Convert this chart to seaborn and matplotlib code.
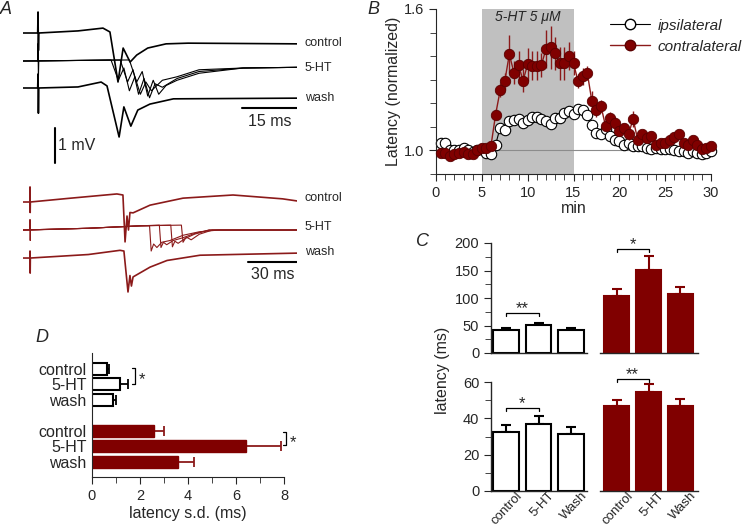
import numpy as np
import matplotlib
matplotlib.use("Agg")
import matplotlib.pyplot as plt
import matplotlib.transforms as mtransforms
from matplotlib.lines import Line2D
import seaborn as sns

sns.set_style("ticks")
plt.rcParams["font.family"] = ["Liberation Sans", "DejaVu Sans"]
plt.rcParams["font.size"] = 10

RED = "#800000"
TRACE_RED = "#8b1a1a"

# ---------------- panel A: traces (ms, mV relative to own baseline) ----------------
a_ctrl_t = [0, 4.0, 4.1, 4.2, 4.3, 15, 21.8, 23.7, 25.9, 27.3, 29.2, 31, 34, 39, 45, 75]
a_ctrl_v = [0, 0, 0.6, -0.5, 0, 0.06, 0.14, 0.03, -1.4, -0.43, -0.83, -0.63, -0.43, -0.31, -0.29, -0.31]

a_ht1_t = [0, 4.0, 4.1, 4.2, 4.3, 24, 26, 27.5, 29, 30.5, 32, 33.5, 35, 38, 42, 48, 60, 75]
a_ht1_v = [0, 0, 0.5, -0.5, 0, 0.03, -0.55, -0.2, -0.85, -0.45, -0.95, -0.6, -0.85, -0.55, -0.45, -0.25, -0.2, -0.18]
a_ht2_t = [0, 26.5, 28.5, 30, 31.5, 33, 34.5, 36, 38, 42, 48, 60, 75]
a_ht2_v = [0, 0.03, -0.6, -0.25, -0.95, -0.5, -1.05, -0.65, -0.75, -0.5, -0.3, -0.2, -0.18]
a_ht3_t = [0, 29, 31, 32.5, 34, 35.5, 37, 39, 42, 48, 60, 75]
a_ht3_v = [0, 0.03, -0.6, -0.3, -1.0, -0.55, -0.95, -0.7, -0.55, -0.35, -0.2, -0.18]

a_wash_t = [0, 4.0, 4.1, 4.2, 4.3, 15, 21.3, 22.9, 26.2, 27.5, 29.4, 31.3, 34.6, 41, 75]
a_wash_v = [0, 0, 0.4, -0.72, 0, 0.03, 0.17, 0.06, -1.4, -0.54, -1.09, -0.63, -0.46, -0.31, -0.29]

r_ctrl_t = [0, 4.2, 4.3, 4.4, 4.5, 27, 57.5, 61.2, 62.5, 63.7, 64.6, 65.5, 67.4, 77.8, 98, 128.6, 159, 167.8]
r_ctrl_v = [0, 0, 0.43, -0.3, 0, 0.1, 0.23, 0.2, -1.14, -0.4, -0.8, -0.3, -0.31, -0.09, 0.11, 0.2, 0.09, 0.03]

r_ht1_t = [0, 4.2, 4.3, 4.4, 4.5, 40, 72, 77.5, 78.5, 80, 82, 85, 90, 98, 108, 120, 167.8]
r_ht1_v = [0, 0, 0.3, -0.3, 0, 0.05, 0.12, 0.12, -0.6, -0.4, -0.5, -0.35, -0.3, -0.15, -0.05, 0.0, 0.0]
r_ht2_t = [0, 40, 72, 83.5, 84.5, 86, 88, 92, 98, 105, 114, 167.8]
r_ht2_v = [0, 0.05, 0.12, 0.14, -0.5, -0.35, -0.42, -0.3, -0.22, -0.1, 0, 0]
r_ht3_t = [0, 40, 72, 90.5, 91.5, 93, 95, 99, 105, 114, 167.8]
r_ht3_v = [0, 0.05, 0.12, 0.14, -0.48, -0.32, -0.38, -0.25, -0.12, 0, 0]
r_ht4_t = [0, 40, 72, 97, 98, 100, 103, 108, 116, 167.8]
r_ht4_v = [0, 0.05, 0.12, 0.14, -0.35, -0.2, -0.28, -0.12, 0, 0]

r_wash_t = [0, 4.2, 4.3, 4.4, 4.5, 40, 59.4, 61.8, 64.3, 65.5, 66.4, 67.4, 77.8, 88.2, 108.4, 167.8]
r_wash_v = [0, 0, 0.2, -0.43, 0, 0.1, 0.22, 0.2, -0.97, -0.5, -0.8, -0.54, -0.26, -0.07, 0.08, 0.14]

# ---------------- panel B: normalized latency ----------------
minutes = np.arange(0.5, 30.01, 0.5)
ipsi = [1.032, 1.030, 1.000, 1.000, 1.000, 1.011, 1.000, 0.995, 1.000, 1.005,
        0.990, 0.983, 1.025, 1.096, 1.085, 1.124, 1.131, 1.134, 1.117, 1.131,
        1.142, 1.142, 1.135, 1.124, 1.114, 1.138, 1.138, 1.159, 1.166, 1.156,
        1.176, 1.173, 1.152, 1.106, 1.072, 1.068, 1.089, 1.061, 1.046, 1.040,
        1.025, 1.032, 1.018, 1.018, 1.018, 1.011, 1.004, 1.011, 1.007, 1.007,
        1.004, 1.000, 0.997, 0.997, 0.990, 0.997, 0.990, 0.983, 0.987, 0.997]
ipsi_err = [0.01, 0.01, 0.01, 0.01, 0.01, 0.01, 0.01, 0.01, 0.01, 0.01,
            0.01, 0.01, 0.015, 0.015, 0.015, 0.015, 0.015, 0.015, 0.015, 0.015,
            0.015, 0.015, 0.015, 0.015, 0.015, 0.02, 0.02, 0.02, 0.02, 0.02,
            0.02, 0.02, 0.02, 0.015, 0.015, 0.015, 0.015, 0.01, 0.01, 0.01,
            0.01, 0.01, 0.01, 0.01, 0.01, 0.01, 0.01, 0.01, 0.01, 0.01,
            0.01, 0.01, 0.01, 0.01, 0.01, 0.01, 0.01, 0.01, 0.01, 0.01]
contra = [0.990, 0.990, 0.975, 0.985, 0.990, 0.995, 0.985, 0.985, 1.000, 1.010,
          1.010, 1.020, 1.152, 1.255, 1.293, 1.408, 1.330, 1.363, 1.296, 1.366,
          1.360, 1.360, 1.363, 1.430, 1.437, 1.413, 1.370, 1.370, 1.400, 1.370,
          1.293, 1.314, 1.330, 1.210, 1.170, 1.187, 1.103, 1.138, 1.117, 1.083,
          1.097, 1.068, 1.134, 1.046, 1.068, 1.053, 1.063, 1.025, 1.030, 1.032,
          1.044, 1.058, 1.068, 1.032, 1.025, 1.046, 1.021, 1.004, 1.011, 1.018]
contra_err = [0.01, 0.01, 0.01, 0.01, 0.01, 0.01, 0.01, 0.01, 0.01, 0.01,
              0.015, 0.015, 0.025, 0.03, 0.035, 0.08, 0.05, 0.06, 0.05, 0.07,
              0.06, 0.06, 0.05, 0.08, 0.09, 0.07, 0.07, 0.07, 0.06, 0.05,
              0.03, 0.035, 0.03, 0.04, 0.03, 0.025, 0.02, 0.025, 0.025, 0.02,
              0.02, 0.025, 0.035, 0.02, 0.02, 0.02, 0.02, 0.015, 0.015, 0.015,
              0.015, 0.015, 0.015, 0.015, 0.015, 0.015, 0.015, 0.015, 0.015, 0.015]

# ---------------- panel C: latency bars ----------------
conditions = ["control", "5-HT", "Wash"]
c_top_ipsi = [41.8, 50.3, 42.0]
c_top_ipsi_err = [3.7, 4.7, 3.5]
c_top_contra = [103.0, 150.3, 107.8]
c_top_contra_err = [12.8, 25.7, 12.7]
c_bot_ipsi = [32.3, 36.9, 31.5]
c_bot_ipsi_err = [3.9, 4.2, 3.5]
c_bot_contra = [46.8, 54.7, 46.8]
c_bot_contra_err = [3.3, 4.0, 3.8]

# ---------------- panel D: latency s.d. ----------------
d_labels = ["control", "5-HT", "wash"]
d_ipsi = [0.62, 1.18, 0.86]
d_ipsi_err = [0.10, 0.32, 0.14]
d_contra = [2.59, 6.40, 3.57]
d_contra_err = [0.43, 1.47, 0.70]

W, H = 750, 530
fig = plt.figure(figsize=(7.5, 5.3), dpi=100)


def px_axes(x0, y0, x1, y1):
    return fig.add_axes([x0 / W, 1 - y1 / H, (x1 - x0) / W, (y1 - y0) / H])


def trace(ax, t, v, offset, color, lw=1.0):
    sns.lineplot(x=t, y=np.array(v) + offset, ax=ax, color=color, lw=lw,
                 estimator=None, sort=False)


# ---- A top (black) ----
axA = px_axes(23, 0, 297, 170)
axA.set_xlim(0, 74.7)
axA.set_ylim(-3.914, 0.943)
axA.axis("off")
trace(axA, a_ctrl_t, a_ctrl_v, 0, "black", 1.2)
for t, v in [(a_ht1_t, a_ht1_v), (a_ht2_t, a_ht2_v), (a_ht3_t, a_ht3_v)]:
    trace(axA, t, v, -0.8, "black", 0.8)
trace(axA, a_wash_t, a_wash_v, -1.571, "black", 1.2)
axA.plot([59.7, 74.7], [-2.14, -2.14], color="black", lw=1.5)
axA.text(67.2, -2.3, "15 ms", ha="center", va="top", fontsize=11.5)
axA.plot([8.7, 8.7], [-2.71, -3.71], color="black", lw=1.5)
axA.text(9.6, -3.2, "1 mV", ha="left", va="center", fontsize=11.5)
for lab, y in [("control", -0.29), ("5-HT", -1.0), ("wash", -1.86)]:
    axA.text(76.8, y, lab, ha="left", va="center", fontsize=9, clip_on=False)

# ---- A bottom (red) ----
axA2 = px_axes(23, 170, 297, 320)
axA2.set_xlim(0, 167.8)
axA2.set_ylim(-3.37, 0.914)
axA2.axis("off")
trace(axA2, r_ctrl_t, r_ctrl_v, 0, TRACE_RED, 1.2)
for t, v in [(r_ht1_t, r_ht1_v), (r_ht2_t, r_ht2_v), (r_ht3_t, r_ht3_v), (r_ht4_t, r_ht4_v)]:
    trace(axA2, t, v, -0.8, TRACE_RED, 0.8)
trace(axA2, r_wash_t, r_wash_v, -1.6, TRACE_RED, 1.2)
axA2.plot([137.8, 167.8], [-1.714, -1.714], color="black", lw=1.5)
axA2.text(152.8, -1.85, "30 ms", ha="center", va="top", fontsize=11.5)
for lab, y in [("control", 0.11), ("5-HT", -0.71), ("wash", -1.43)]:
    axA2.text(172.5, y, lab, ha="left", va="center", fontsize=9, clip_on=False)

# ---- B ----
axB = px_axes(436, 9, 711, 174)
axB.axvspan(5, 15, color="#c0c0c0", lw=0, zorder=0)
axB.axhline(1.0, color="#8c8c8c", lw=0.8, zorder=0.5)
axB.errorbar(minutes, ipsi, yerr=ipsi_err, fmt="none", ecolor="black", elinewidth=0.8, zorder=1)
sns.lineplot(x=minutes, y=ipsi, ax=axB, color="black", lw=0.8, marker="o", markersize=7.5,
             markerfacecolor="white", markeredgecolor="black", markeredgewidth=0.8,
             estimator=None, clip_on=False, zorder=2)
axB.errorbar(minutes, contra, yerr=contra_err, fmt="none", ecolor=TRACE_RED, elinewidth=1.0, zorder=3)
sns.lineplot(x=minutes, y=contra, ax=axB, color=TRACE_RED, lw=1.0, marker="o", markersize=7.5,
             markerfacecolor=RED, markeredgecolor="#5a0000", markeredgewidth=0.6,
             estimator=None, clip_on=False, zorder=4)
axB.set_xlim(0, 30)
axB.set_ylim(0.9, 1.6)
axB.set_xticks([0, 5, 10, 15, 20, 25, 30])
axB.set_xticks(np.arange(0, 31, 1), minor=True)
axB.set_yticks([1.0, 1.6])
axB.set_yticklabels(["1.0", "1.6"])
axB.set_yticks(np.arange(0.9, 1.61, 0.1), minor=True)
axB.tick_params(which="major", direction="out", length=5, labelsize=10.5)
axB.tick_params(which="minor", direction="out", length=4)
axB.set_xlabel("min", fontsize=11.5, labelpad=1)
axB.set_ylabel("Latency (normalized)", fontsize=11.5, labelpad=2)
axB.text(10, 1.567, "5-HT 5 μM", ha="center", va="center", style="italic", fontsize=10)
sns.despine(ax=axB)
handles = [
    Line2D([], [], color="black", lw=0.8, marker="o", ms=7.5, mfc="white", mec="black"),
    Line2D([], [], color=TRACE_RED, lw=1.0, marker="o", ms=7.5, mfc=RED, mec="#5a0000"),
]
axB.legend(handles, ["ipsilateral", "contralateral"], loc="upper right",
           bbox_to_anchor=(1.003, 0.985), bbox_transform=fig.transFigure, frameon=False,
           prop={"style": "italic", "size": 11}, handlelength=2.6, handletextpad=0.5,
           labelspacing=0.45, borderpad=0.2)

# ---- C ----
axCtl = px_axes(491, 243, 587, 353)
axCtr = px_axes(600, 243, 698, 353)
axCbl = px_axes(491, 382, 587, 491)
axCbr = px_axes(600, 382, 698, 491)

panels_c = [
    (axCtl, c_top_ipsi, c_top_ipsi_err, "white", "black"),
    (axCtr, c_top_contra, c_top_contra_err, RED, RED),
    (axCbl, c_bot_ipsi, c_bot_ipsi_err, "white", "black"),
    (axCbr, c_bot_contra, c_bot_contra_err, RED, RED),
]
for ax, vals, errs, fc, ec in panels_c:
    sns.barplot(x=conditions, y=vals, ax=ax, color=fc, edgecolor=ec, linewidth=1.5,
                saturation=1, width=0.8, errorbar=None, zorder=2)
    ax.errorbar(range(3), vals, yerr=[[0, 0, 0], errs], fmt="none", ecolor=ec,
                elinewidth=1.5, capsize=3.5, capthick=1.5, zorder=1)
    ax.tick_params(axis="x", length=0, pad=0)
    ax.tick_params(axis="y", which="both", direction="out", labelsize=10.5)
    ax.tick_params(axis="y", which="major", length=5)
    ax.tick_params(axis="y", which="minor", length=4)
    ax.set_xlabel("")
    ax.set_ylabel("")
    for s in ax.spines.values():
        s.set_linewidth(1.0)

for ax in (axCtl, axCbl):
    ax.set_xlim(-0.47, 2.5)
for ax in (axCtr, axCbr):
    ax.set_xlim(-0.53, 2.56)
for ax in (axCtl, axCtr):
    ax.set_ylim(0, 200)
    ax.set_xticklabels([])
shift = mtransforms.ScaledTranslation(7 / 72, 1 / 72, fig.dpi_scale_trans)
for ax in (axCbl, axCbr):
    ax.set_ylim(0, 60)
    ax.set_xticks(range(3))
    ax.set_xticklabels(conditions, rotation=47, ha="right", va="top",
                       rotation_mode="anchor", fontsize=9.5)
    for lab in ax.get_xticklabels():
        lab.set_transform(lab.get_transform() + shift)
axCtl.set_yticks([0, 50, 100, 150, 200])
axCtl.set_yticks([25, 75, 125, 175], minor=True)
axCbl.set_yticks([0, 20, 40, 60])
axCbl.set_yticks([10, 30, 50], minor=True)
sns.despine(ax=axCtl)
sns.despine(ax=axCbl)
for ax in (axCtr, axCbr):
    sns.despine(ax=ax, left=True)
    ax.set_yticks([])


def bracket(ax, y, drop, label):
    ax.plot([0, 0, 1, 1], [y - drop, y, y, y - drop], color="black", lw=0.9, clip_on=False)
    ax.text(0.5, y, label, ha="center", va="baseline", fontsize=12, clip_on=False)


bracket(axCtl, 72.7, 5.5, "**")
bracket(axCtr, 189, 5.5, "*")
bracket(axCbl, 45.7, 1.6, "*")
bracket(axCbr, 61.6, 1.6, "**")
fig.text(443 / W, 1 - 370 / H, "latency (ms)", rotation=90, ha="center", va="center", fontsize=11.5)

# ---- D ----
axD = px_axes(92, 353, 284, 477)
sns.barplot(x=d_ipsi, y=[0, 1, 2], ax=axD, orient="h", native_scale=True, color="white",
            edgecolor="black", linewidth=1.5, saturation=1, width=0.78, errorbar=None, zorder=2)
sns.barplot(x=d_contra, y=[4, 5, 6], ax=axD, orient="h", native_scale=True, color=RED,
            edgecolor=RED, linewidth=1.0, saturation=1, width=0.78, errorbar=None, zorder=2)
axD.errorbar(d_ipsi, [0, 1, 2], xerr=[[0, 0, 0], d_ipsi_err], fmt="none", ecolor="black",
             elinewidth=1.3, capsize=3.5, capthick=1.3, zorder=1)
axD.errorbar(d_contra, [4, 5, 6], xerr=[[0, 0, 0], d_contra_err], fmt="none", ecolor=TRACE_RED,
             elinewidth=1.3, capsize=3.5, capthick=1.3, zorder=1)
axD.set_xlim(0, 8)
axD.set_ylim(7.0, -1.04)
axD.set_yticks([0, 1, 2, 4, 5, 6])
axD.set_yticklabels(d_labels + d_labels, fontsize=11.5)
axD.tick_params(axis="y", length=0, pad=4)
axD.set_xticks([0, 2, 4, 6, 8])
axD.set_xticks([1, 3, 5, 7], minor=True)
axD.tick_params(axis="x", which="major", direction="out", length=5, labelsize=10.5)
axD.tick_params(axis="x", which="minor", direction="out", length=4)
axD.set_xlabel("latency s.d. (ms)", fontsize=11.5, labelpad=2)
axD.set_ylabel("")
sns.despine(ax=axD)
axD.plot([1.65, 1.79, 1.79, 1.65], [-0.05, -0.05, 0.95, 0.95], color="black", lw=0.9, clip_on=False)
axD.text(1.93, 0.98, "*", ha="left", va="baseline", fontsize=12, clip_on=False)
axD.plot([7.95, 8.1, 8.1, 7.95], [4.1, 4.1, 4.95, 4.95], color="black", lw=0.9, clip_on=False)
axD.text(8.22, 5.08, "*", ha="left", va="baseline", fontsize=12, clip_on=False)

# ---- panel letters ----
for letter, x, y in [("A", 6, 9), ("B", 373, 9), ("C", 423, 241), ("D", 42, 338)]:
    fig.text(x / W, 1 - y / H, letter, ha="center", va="center", style="italic", fontsize=13)

fig.savefig("out.png", dpi=100)
